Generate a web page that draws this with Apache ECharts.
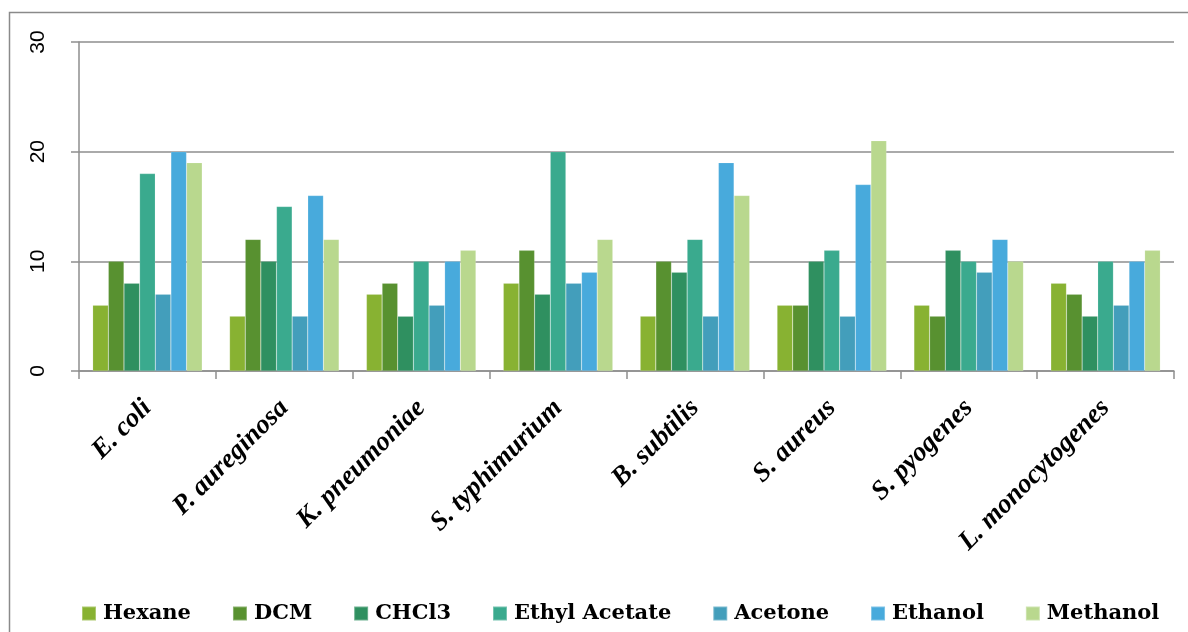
<!DOCTYPE html>
<html>
<head>
<meta charset="utf-8">
<title>Zone of inhibition by solvent extract</title>
<script src="https://cdn.jsdelivr.net/npm/echarts@6/dist/echarts.min.js"></script>
<style>
  html, body { margin: 0; padding: 0; background: #fff; }
  #chart { width: 1188px; height: 632px; }
</style>
</head>
<body>
<div id="chart"></div>
<script>
// Test organisms (x-axis categories)
const organisms = ['E. coli', 'P. aureginosa', 'K. pneumoniae', 'S. typhimurium',
                   'B. subtilis', 'S. aureus', 'S. pyogenes', 'L. monocytogenes'];

// Solvent extracts, one series each
const solvents = ['Hexane', 'DCM', 'CHCl3', 'Ethyl Acetate', 'Acetone', 'Ethanol', 'Methanol'];

// Inhibition values per organism, in organism order
const hexane       = [6, 5, 7, 8, 5, 6, 6, 8];
const dcm          = [10, 12, 8, 11, 10, 6, 5, 7];
const chcl3        = [8, 10, 5, 7, 9, 10, 11, 5];
const ethylAcetate = [18, 15, 10, 20, 12, 11, 10, 10];
const acetone      = [7, 5, 6, 8, 5, 5, 9, 6];
const ethanol      = [20, 16, 10, 9, 19, 17, 12, 10];
const methanol     = [19, 12, 11, 12, 16, 21, 10, 11];

// Y axis scale
const yMin = 0;
const yMax = 30;
const yStep = 10;

const seriesValues = [hexane, dcm, chcl3, ethylAcetate, acetone, ethanol, methanol];
const palette = ['#88b232', '#589130', '#2f9060', '#3aaa8e', '#439ebb', '#48aadc', '#b9d88e'];

const gridGray = '#8e8e8e';

const chart = echarts.init(document.getElementById('chart'), null, { renderer: 'canvas' });

chart.setOption({
  animation: false,
  backgroundColor: '#ffffff',
  color: palette,
  graphic: [
    {
      // outer chart frame (left and top edges)
      type: 'polyline',
      silent: true,
      shape: { points: [[9.5, 632], [9.5, 12.5], [1188, 12.5]] },
      style: { stroke: '#8a8a8a', lineWidth: 1.5, fill: null }
    }
  ],
  grid: {
    left: 79,
    right: 14,
    top: 42,
    bottom: 261,
    containLabel: false
  },
  legend: {
    data: solvents,
    left: 76,
    top: 598,
    icon: 'rect',
    itemWidth: 14,
    itemHeight: 14,
    itemGap: 41,
    textStyle: {
      fontFamily: 'DejaVu Serif',
      fontWeight: 'bold',
      fontSize: 21,
      color: '#000000',
      padding: [0, 0, 0, 2]
    }
  },
  xAxis: {
    type: 'category',
    data: organisms,
    boundaryGap: true,
    axisLine: { show: true, lineStyle: { color: gridGray, width: 1.5 } },
    axisTick: { show: true, alignWithLabel: false, length: 8, lineStyle: { color: gridGray, width: 1.5 } },
    axisLabel: {
      interval: 0,
      rotate: 45,
      margin: 33,
      fontFamily: 'Liberation Serif',
      fontStyle: 'italic',
      fontWeight: 'bold',
      fontSize: 27,
      color: '#000000'
    }
  },
  yAxis: {
    type: 'value',
    min: yMin,
    max: yMax,
    interval: yStep,
    axisLine: { show: true, lineStyle: { color: gridGray, width: 1.5 } },
    axisTick: { show: true, length: 8, lineStyle: { color: gridGray, width: 1.5 } },
    splitLine: { show: true, lineStyle: { color: gridGray, width: 1.5 } },
    axisLabel: {
      rotate: 90,
      margin: 30,
      fontFamily: 'Liberation Sans',
      fontSize: 21,
      color: '#000000'
    }
  },
  series: solvents.map((name, i) => ({
    name: name,
    type: 'bar',
    data: seriesValues[i],
    barGap: '0%',
    barCategoryGap: '20%',
    itemStyle: {
      color: palette[i],
      borderColor: 'rgba(255,255,255,0.3)',
      borderWidth: 0.5
    }
  }))
});
</script>
</body>
</html>
